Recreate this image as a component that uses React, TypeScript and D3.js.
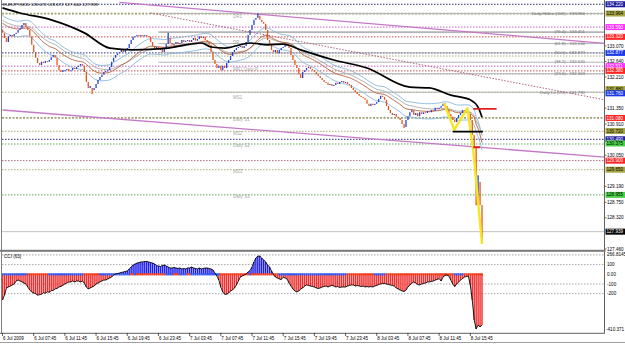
import React from "react";
import * as d3 from "d3";

const W = 625;
const H = 344;

// ---------- DATA ----------
const titleText = "EURJPY,M15  128.672 128.672 127.604 127.939";
const firstOpen = 133.52;
const closes = [
  133.43, 133.29, 133.18, 133.34, 133.37, 133.34, 133.40, 133.43, 133.51, 133.56, 133.65, 133.70, 133.59, 133.51, 133.34, 133.10,
  132.90, 132.74, 132.60, 132.54, 132.63, 132.60, 132.65, 132.63, 132.68, 132.76, 132.82, 132.74, 132.54, 132.40, 132.35, 132.40,
  132.40, 132.43, 132.38, 132.40, 132.46, 132.43, 132.49, 132.52, 132.57, 132.52, 132.35, 132.07, 131.91, 131.96, 131.85, 131.91,
  132.02, 132.13, 132.21, 132.27, 132.35, 132.38, 132.40, 132.49, 132.63, 132.74, 132.82, 132.87, 132.90, 132.96, 132.90, 132.96,
  133.01, 133.12, 133.23, 133.32, 133.34, 133.37, 133.34, 133.37, 133.34, 133.37, 133.34, 133.32, 133.18, 133.07, 133.01, 133.04,
  132.96, 133.01, 132.90, 133.01, 133.12, 133.29, 133.15, 133.10, 133.12, 133.18, 133.12, 133.15, 133.23, 133.18, 133.21, 133.23,
  133.18, 133.23, 133.29, 133.21, 133.26, 133.34, 133.29, 133.32, 133.23, 133.18, 133.10, 132.90, 132.68, 132.57, 132.46, 132.52,
  132.40, 132.52, 132.46, 132.60, 132.68, 132.79, 132.90, 132.96, 133.01, 133.04, 133.07, 133.01, 133.07, 133.18, 133.37, 133.51,
  133.65, 133.79, 133.84, 133.90, 133.79, 133.73, 133.68, 133.51, 133.23, 133.10, 132.96, 132.90, 132.96, 132.87, 132.96, 133.01,
  133.04, 133.10, 133.07, 133.01, 132.82, 132.68, 132.54, 132.46, 132.29, 132.18, 132.35, 132.40, 132.46, 132.49, 132.43, 132.40,
  132.35, 132.29, 132.24, 132.18, 132.13, 132.07, 132.05, 131.99, 132.02, 131.96, 131.99, 132.05, 132.02, 132.07, 132.10, 132.05,
  132.07, 132.02, 131.99, 131.91, 131.85, 131.80, 131.74, 131.69, 131.66, 131.63, 131.58, 131.47, 131.41, 131.47, 131.44, 131.47,
  131.52, 131.60, 131.69, 131.66, 131.58, 131.41, 131.30, 131.22, 131.16, 131.19, 131.11, 131.08, 131.02, 130.91, 130.83, 131.02,
  131.13, 131.24, 131.30, 131.16, 131.22, 131.13, 131.24, 131.19, 131.24, 131.22, 131.27, 131.24, 131.30, 131.27, 131.36, 131.33,
  131.36, 131.41, 131.47, 131.41, 131.30, 131.19, 131.11, 131.02, 130.97, 131.08, 131.16, 131.22, 131.30, 131.24, 131.27, 131.19,
  131.02, 130.61, 130.25, 128.81, 129.31, 128.67, 127.939,
];
// [bar, high, low] for bars with visible wicks
const wicks = [
  [46, 131.91, 131.74],
  [85, 133.43, 133.12],
  [131, 133.964, 133.84],
  [206, 130.91, 130.80],
  [227, 131.49, 131.41],
  [243, 130.25, 128.67],
  [244, 129.5, 128.81],
  [246, 128.672, 127.604],
];

const cciValues = [
  -265, -213, -141, -131, -121, -110, -100, -69, -59, -69, -79, -90, -100, -131, -162, -182,
  -193, -200, -215, -210, -205, -190, -195, -180, -185, -170, -165, -150, -145, -130, -125, -112,
  -100, -90, -79, -79, -69, -79, -69, -69, -79, -69, -90, -131, -151, -141, -131, -121,
  -100, -90, -79, -69, -59, -59, -48, -38, -28, -7, 3, 8, 13, 19, 24, 29,
  34, 55, 75, 96, 106, 116, 121, 127, 127, 132, 132, 127, 121, 116, 106, 91,
  85, 80, 91, 96, 85, 75, 65, 65, 70, 65, 60, 65, 55, 60, 55, 65,
  65, 75, 65, 60, 55, 65, 55, 60, 65, 65, 60, 55, 44, 13, -18, -59,
  -131, -182, -206, -206, -193, -172, -162, -141, -110, -69, -28, -18, -7, 3, 24, 39,
  75, 127, 168, 188, 188, 168, 147, 127, 96, 75, 34, -2, -28, -38, -48, -54,
  -28, -38, -48, -90, -121, -151, -172, -182, -172, -151, -141, -121, -110, -115, -121, -126,
  -131, -141, -146, -141, -131, -126, -121, -131, -121, -115, -121, -131, -126, -136, -131, -131,
  -131, -121, -115, -110, -110, -121, -115, -121, -126, -121, -131, -126, -131, -126, -131, -121,
  -115, -105, -100, -95, -95, -100, -105, -110, -115, -121, -141, -151, -162, -172, -177, -162,
  -131, -110, -90, -79, -90, -105, -110, -100, -95, -90, -79, -79, -74, -69, -59, -54,
  -43, -69, -28, -12, -7, -18, -59, -100, -126, -100, -79, -59, -43, -28, -23, -18,
  -110, -265, -471, -563, -522, -543, -522,
];
const cciRedRanges = [[13, 23], [42, 49], [66, 67], [69, 83], [88, 90], [95, 96], [112, 126], [128, 141], [177, 190], [197, 231], [237, 246]];
const cciLevels = [200, 100, -100, -200];
const cciAxisLabels = ["100", "0.00", "-100", "-200"];
const cciAxisValues = [100, 0, -100, -200];
const cciMaxLabel = "266.8145";
const cciMinLabel = "-410.371";

const timeLabels = ["6 Jul 2009", "6 Jul 07:45", "6 Jul 11:45", "6 Jul 15:45", "6 Jul 19:45", "6 Jul 23:45", "7 Jul 03:45", "7 Jul 07:45", "7 Jul 11:45", "7 Jul 15:45", "7 Jul 19:45", "7 Jul 23:45", "8 Jul 03:45", "8 Jul 07:45", "8 Jul 11:45", "8 Jul 15:45"];
const timeLabelBars = [0, 16, 32, 48, 64, 80, 96, 112, 128, 144, 160, 176, 192, 208, 224, 240];

const axisTicks = ["127.460", "128.320", "128.750", "129.190", "130.050", "130.910", "131.350", "132.210", "132.640", "133.070"];

const levelPrices = [134.22, 133.964, 133.59, 133.32, 132.877, 132.79, 132.511, 132.38, 132.29, 131.79, 131.08, 130.71, 130.49, 130.36, 129.90, 129.65, 128.955];
const levelKinds = ["navy", "oliveBold", "magenta", "red", "navy", "olive", "magenta", "red", "gray", "olive", "oliveBold", "olive", "navy", "green", "maroon", "olive", "green"];

const tagPrices = [134.22, 133.964, 133.59, 133.32, 132.877, 132.511, 132.38, 131.88, 131.76, 131.08, 130.72, 130.49, 130.375, 129.90, 129.65, 128.955, 127.939];
const tagKinds = ["navy", "olive", "magenta", "red", "blue", "magenta", "red", "olive", "blue", "red", "olive", "navy", "green", "red", "olive", "green", "black"];

const fibPrices = [133.964, 133.451, 133.134, 132.877, 132.620, 132.303, 131.790];
const fibNames = ["Daily Hi&Lo (100)", "(76.4)", "(61.8)", "(50.0)", "(38.2)", "(23.6)", "Daily Lo (0.0)"];
const fibStartBar = 80;

const pivotNames = ["DR1", "DP", "MR1  Daily P", "MS1", "Daily S1", "MS2", "Daily S2", "MS3", "Daily S3"];
const pivotPrices = [133.93, 133.20, 132.46, 131.69, 131.08, 130.71, 130.36, 129.65, 128.955];

const ma200Knots = [[0, 134.12], [9, 133.98], [25, 133.79], [42, 133.43], [55, 133.01], [67, 132.96], [85, 133.01], [102, 133.15], [107, 133.04], [114, 133.01], [127, 133.15], [136, 133.10], [144, 133.12], [153, 132.96], [170, 132.68], [187, 132.46], [209, 131.93], [219, 131.91], [230, 131.71], [240, 131.58], [244, 131.38], [246, 131.10]];
const emaSeedFast = 133.72;
const emaSeedSlow = 133.80;

const trendSolid = [[[60, 134.27], [309, 133.14]], [[0, 131.30], [309, 130.00]]];
const trendDotted = [[[76, 133.98], [309, 131.58]]];

const zigzag = [[226.5, 131.49], [231.8, 130.75], [238.5, 131.35], [241.5, 130.19], [246, 127.604]];
const necklineBars = [231, 246.5];
const necklinePrice = 130.70;
const targetBars = [241.5, 253.5];
const targetPrice = 131.33;
const stopBars = [241.5, 245];
const stopPrice = 130.27;

// ---------- STYLES ----------
const LINE_COLORS: Record<string, string> = {
  navy: "#2a2a7a", olive: "#acac78", oliveBold: "#a0a074", magenta: "#c860c8", red: "#cc5050",
  green: "#60a860", maroon: "#a86080", gray: "#b0b0b0",
};
const TAG_BG: Record<string, string> = {
  navy: "#1c1c9c", olive: "#a8a848", magenta: "#ff30ff", red: "#ff2424", blue: "#1838e8",
  green: "#48d048", black: "#000000",
};
const TAG_FG: Record<string, string> = {
  navy: "#fff", olive: "#000", magenta: "#fff", red: "#fff", blue: "#fff", green: "#000", black: "#fff",
};
const FONT = "Liberation Sans, Arial, sans-serif";

function ema(values: number[], n: number, seed: number) {
  const k = 2 / (n + 1);
  let e = seed;
  return values.map((v) => (e = e + k * (v - e)));
}

export default function App() {
  const x = d3.scaleLinear().domain([0, 246]).range([2.5, 482]);
  const y = d3.scaleLinear().domain([127.46, 134.28]).range([249, 2.1]);
  const cy = d3.scaleLinear().domain([-200, 100]).range([293.7, 264.6]);
  const RIGHT = 604.5;

  const opens = closes.map((c, i) => (i === 0 ? firstOpen : closes[i - 1]));
  const wickMap = new Map(wicks.map((w) => [w[0], w]));

  const fast = ema(closes, 24, emaSeedFast);
  const slow = ema(closes, 32, emaSeedSlow);
  const env = 0.0016;

  const lineGen = d3.line<number>().x((_, i) => x(i)).y((d) => y(d));
  const knotLine = d3.line<number[]>().x((d) => x(d[0])).y((d) => y(d[1])).curve(d3.curveMonotoneX);
  const zz = d3.line<number[]>().x((d) => x(d[0])).y((d) => y(d[1]));
  const cciLine = d3.line<number>().x((_, i) => x(i)).y((d) => cy(d));

  const inRed = (i: number) => cciRedRanges.some((r) => i >= r[0] && i <= r[1]);

  return (
    <svg width={W} height={H} style={{ position: "absolute", left: 0, top: 0, background: "#fff" }} fontFamily={FONT}>
      <defs>
        <clipPath id="mainClip"><rect x={2} y={0} width={RIGHT - 2} height={249.5} /></clipPath>
        <clipPath id="cciClip"><rect x={2} y={252} width={RIGHT - 2} height={81} /></clipPath>
      </defs>
      <rect x={0} y={0} width={W} height={H} fill="#fff" />

      <g clipPath="url(#mainClip)">
        {levelPrices.map((p, i) => (
          <line key={"lv" + i} x1={2} x2={RIGHT} y1={y(p)} y2={y(p)}
            stroke={LINE_COLORS[levelKinds[i]]}
            strokeWidth={levelKinds[i] === "oliveBold" ? 1.8 : 1}
            strokeDasharray={levelKinds[i] === "oliveBold" ? "2,1.5" : "1.5,1.5"} />
        ))}
        {fibPrices.map((p, i) => (
          <line key={"fb" + i} x1={x(fibStartBar)} x2={RIGHT} y1={y(p)} y2={y(p)} stroke="#b4b4b4" strokeWidth={i === 1 ? 1.6 : 1} />
        ))}
        {fibPrices.map((p, i) => (
          <text key={"ft" + i} x={585} y={y(p) + 1.3} fontSize={4.3} fill="#707070" textAnchor="end">
            {fibNames[i] + " - " + p.toFixed(3)}
          </text>
        ))}
        {pivotNames.map((n, i) => (
          <text key={"pv" + i} x={233} y={y(pivotPrices[i]) + 3.2} fontSize={4.5} fill="#a8a8a8">{n}</text>
        ))}
        <line x1={2} x2={RIGHT} y1={y(closes[closes.length - 1])} y2={y(closes[closes.length - 1])} stroke="#c0c0c0" strokeWidth={1} />
        {trendSolid.map((t, i) => (
          <line key={"ts" + i} x1={x(t[0][0])} y1={y(t[0][1])} x2={x(t[1][0])} y2={y(t[1][1])} stroke="#c678c8" strokeWidth={1.3} />
        ))}
        {trendDotted.map((t, i) => (
          <line key={"td" + i} x1={x(t[0][0])} y1={y(t[0][1])} x2={x(t[1][0])} y2={y(t[1][1])} stroke="#b06080" strokeWidth={1} strokeDasharray="1.5,1.5" />
        ))}
        <path d={lineGen(slow) || ""} fill="none" stroke="#a8a8a8" strokeWidth={0.9} />
        <path d={lineGen(fast.map((v) => v * (1 + env))) || ""} fill="none" stroke="#86b8dc" strokeWidth={0.9} />
        <path d={lineGen(fast.map((v) => v * (1 - env))) || ""} fill="none" stroke="#86b8dc" strokeWidth={0.9} />
        <path d={lineGen(fast) || ""} fill="none" stroke="#b8603c" strokeWidth={0.9} />
        {closes.map((c, i) => {
          const o = opens[i];
          const w = wickMap.get(i);
          const hi = w ? w[1] : Math.max(o, c);
          const lo = w ? w[2] : Math.min(o, c);
          const up = c >= o;
          const y1 = y(hi);
          const y2 = Math.max(y(lo), y1 + 1);
          return <line key={"c" + i} x1={x(i)} x2={x(i)} y1={y1} y2={y2} stroke={up ? "#2244dd" : "#e8541e"} strokeWidth={1.3} />;
        })}
        <path d={knotLine(ma200Knots) || ""} fill="none" stroke="#000" strokeWidth={1.7} />
        <path d={zz(zigzag) || ""} fill="none" stroke="#f4e81c" strokeWidth={2.4} strokeLinejoin="round" />
        <line x1={x(necklineBars[0])} x2={x(necklineBars[1])} y1={y(necklinePrice)} y2={y(necklinePrice)} stroke="#000" strokeWidth={1.8} />
        <line x1={x(targetBars[0])} x2={x(targetBars[1])} y1={y(targetPrice)} y2={y(targetPrice)} stroke="#e02020" strokeWidth={1.8} />
        <line x1={x(stopBars[0])} x2={x(stopBars[1])} y1={y(stopPrice)} y2={y(stopPrice)} stroke="#e02020" strokeWidth={1.8} />
      </g>

      <text x={3} y={6} fontSize={4.4} fill="#000">{titleText}</text>

      {axisTicks.map((t, i) => (
        <g key={"at" + i}>
          <line x1={RIGHT} x2={RIGHT + 2} y1={y(+t)} y2={y(+t)} stroke="#000" strokeWidth={0.6} />
          <text x={607} y={y(+t) + 1.6} fontSize={4.6} fill="#000">{t}</text>
        </g>
      ))}
      {tagPrices.map((p, i) => (
        <g key={"tg" + i}>
          <rect x={RIGHT + 1} y={y(p) - 3} width={20} height={6} fill={TAG_BG[tagKinds[i]]} />
          <text x={606.5} y={y(p) + 1.6} fontSize={4.6} fill={TAG_FG[tagKinds[i]]}>{p.toFixed(3)}</text>
        </g>
      ))}

      <g clipPath="url(#cciClip)">
        {cciLevels.map((lv, i) => (
          <line key={"cl" + i} x1={2} x2={RIGHT} y1={cy(lv)} y2={cy(lv)} stroke="#909090" strokeWidth={0.8} strokeDasharray="1.5,1.5" />
        ))}
        {cciValues.map((v, i) => (
          <line key={"cb" + i} x1={x(i)} x2={x(i)} y1={cy(0)} y2={cy(v)} stroke={v >= 0 ? "#1c1cf0" : "#f03030"} strokeWidth={1.45} />
        ))}
        {cciValues.map((v, i) => (
          <line key={"bz" + i} x1={x(i) - 1} x2={x(i) + 1} y1={cy(0)} y2={cy(0)} stroke={inRed(i) ? "#f04020" : "#3858f0"} strokeWidth={2.2} />
        ))}
        <path d={cciLine(cciValues) || ""} fill="none" stroke="#000" strokeWidth={0.9} />
      </g>
      <text x={4} y={258} fontSize={4.6} fill="#000">CCI (63)</text>
      {cciAxisValues.map((v, i) => (
        <text key={"ca" + i} x={607} y={cy(v) + 1.6} fontSize={4.6} fill="#000">{cciAxisLabels[i]}</text>
      ))}
      <text x={607} y={256} fontSize={4.6} fill="#000">{cciMaxLabel}</text>
      <text x={606} y={330.5} fontSize={4.6} fill="#000">{cciMinLabel}</text>

      <line x1={1.5} x2={1.5} y1={0} y2={333} stroke="#808080" strokeWidth={1} />
      <line x1={RIGHT} x2={RIGHT} y1={0} y2={333.5} stroke="#606060" strokeWidth={1} />
      <rect x={0} y={249.8} width={RIGHT + 1} height={2} fill="#7a7a7a" />
      <line x1={0} x2={RIGHT} y1={333.3} y2={333.3} stroke="#606060" strokeWidth={1} />
      <line x1={0} x2={W} y1={342.5} y2={342.5} stroke="#a0a0a0" strokeWidth={1} />

      {timeLabels.map((t, i) => (
        <g key={"tl" + i}>
          <line x1={x(timeLabelBars[i])} x2={x(timeLabelBars[i])} y1={333} y2={336} stroke="#000" strokeWidth={0.6} />
          <text x={x(timeLabelBars[i]) + 0.5} y={339.5} fontSize={4.5} fill="#000">{t}</text>
        </g>
      ))}
    </svg>
  );
}
